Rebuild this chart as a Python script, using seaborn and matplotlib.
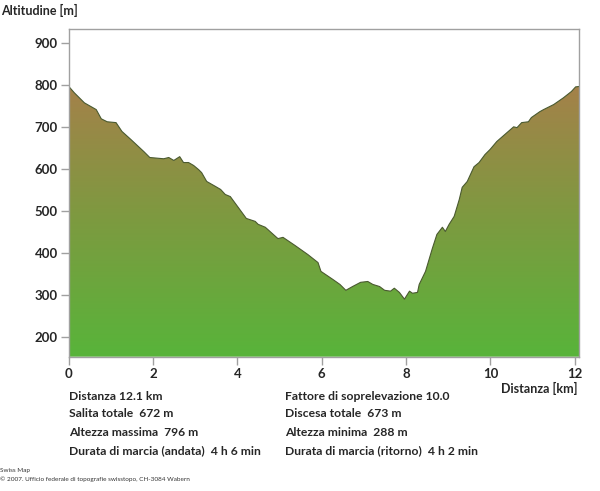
import numpy as np
import pandas as pd
import matplotlib
matplotlib.use("Agg")
import matplotlib.pyplot as plt
import seaborn as sns
from matplotlib.colors import LinearSegmentedColormap

# profile: distance [km], altitude [m]
distanza = [0.00, 0.13, 0.37, 0.65, 0.77, 0.91, 1.12, 1.26, 1.47, 1.78, 1.92, 2.25,
            2.37, 2.49, 2.63, 2.72, 2.84, 2.96, 3.08, 3.15, 3.27, 3.48, 3.60, 3.71,
            3.83, 4.02, 4.21, 4.42, 4.49, 4.66, 4.96, 5.08, 5.36, 5.67, 5.91, 5.98,
            6.26, 6.43, 6.57, 6.73, 6.92, 7.09, 7.21, 7.37, 7.49, 7.63, 7.72, 7.84,
            7.96, 8.08, 8.15, 8.27, 8.31, 8.46, 8.62, 8.73, 8.86, 8.93, 9.02, 9.14,
            9.26, 9.33, 9.45, 9.61, 9.73, 9.87, 9.99, 10.15, 10.39, 10.55, 10.63,
            10.74, 10.90, 10.97, 11.17, 11.26, 11.50, 11.73, 11.92, 12.02, 12.10]
altitudine = [796, 781, 757, 741, 719, 712, 710, 689, 670, 641, 627, 624,
              627, 620, 629, 615, 615, 608, 598, 591, 570, 558, 551, 539,
              534, 508, 482, 475, 468, 461, 434, 437, 418, 396, 377, 356,
              337, 325, 311, 320, 330, 332, 325, 320, 311, 309, 316, 306,
              290, 309, 304, 306, 325, 356, 410, 444, 461, 451, 468, 487,
              527, 556, 570, 605, 615, 634, 646, 665, 686, 700, 698,
              710, 712, 722, 736, 741, 753, 769, 784, 795, 796]

yticks = [200, 300, 400, 500, 600, 700, 800, 900]
xticks = [0, 2, 4, 6, 8, 10, 12]

stats_sx = ["Distanza 12.1 km", "Salita totale  672 m",
            "Altezza massima  796 m", "Durata di marcia (andata)  4 h 6 min"]
stats_dx = ["Fattore di soprelevazione 10.0", "Discesa totale  673 m",
            "Altezza minima  288 m", "Durata di marcia (ritorno)  4 h 2 min"]

df = pd.DataFrame({"km": distanza, "m": altitudine})

sns.set_style("white")
plt.rcParams["font.family"] = ["Lato", "DejaVu Sans"]

fig = plt.figure(figsize=(6, 4.91), dpi=100)
ax = fig.add_axes([0.1147, 0.2735, 0.8503, 0.6668])

ymin, ymax = 153, 932
xmax = 12.1

# gradient fill under the profile
cmap = LinearSegmentedColormap.from_list("alt", ["#58b43a", "#7d9a40", "#a6804a"])
poly = ax.fill_between(df["km"], df["m"], ymin, color="none", lw=0)
grad = np.linspace(0, 1, 256).reshape(-1, 1)
img = ax.imshow(grad, cmap=cmap, origin="lower", aspect="auto",
                extent=[0, xmax, ymin, 810], zorder=1)
img.set_clip_path(poly.get_paths()[0], transform=ax.transData)
sns.lineplot(data=df, x="km", y="m", ax=ax, color="#4a5a30", lw=0.8, zorder=2)

ax.set_xlim(0, xmax)
ax.set_ylim(ymin, ymax)
ax.set_xticks(xticks)
ax.set_yticks(yticks)
ax.set_xlabel("")
ax.set_ylabel("")
for s in ax.spines.values():
    s.set_color("#a0a0a0")
    s.set_linewidth(1)
ax.tick_params(axis="both", direction="out", length=6, width=1, color="#a0a0a0",
               labelsize=9.5, pad=2, bottom=True, left=True)
for lab in ax.get_xticklabels() + ax.get_yticklabels():
    lab.set_fontweight("bold")

fig.text(0.002, 0.978, "Altitudine [m]", fontsize=9, fontweight="bold", va="center")
fig.text(0.962, 0.209, "Distanza [km]", fontsize=9, fontweight="bold",
         ha="right", va="center")

rows_y = [0.193, 0.157, 0.120, 0.083]
for t, y in zip(stats_sx, rows_y):
    fig.text(0.115, y, t, fontsize=8.7, fontweight="bold", va="center")
for t, y in zip(stats_dx, rows_y):
    fig.text(0.475, y, t, fontsize=8.7, fontweight="bold", va="center")

fig.text(0.0, 0.041, "Swiss Map", fontsize=4.6, color="#333333", va="center")
fig.text(0.0, 0.025, "\u00a9 2007. Ufficio federale di topografie swisstopo, CH-3084 Wabern",
         fontsize=4.6, color="#333333", va="center")

fig.savefig("out.png", dpi=100)
